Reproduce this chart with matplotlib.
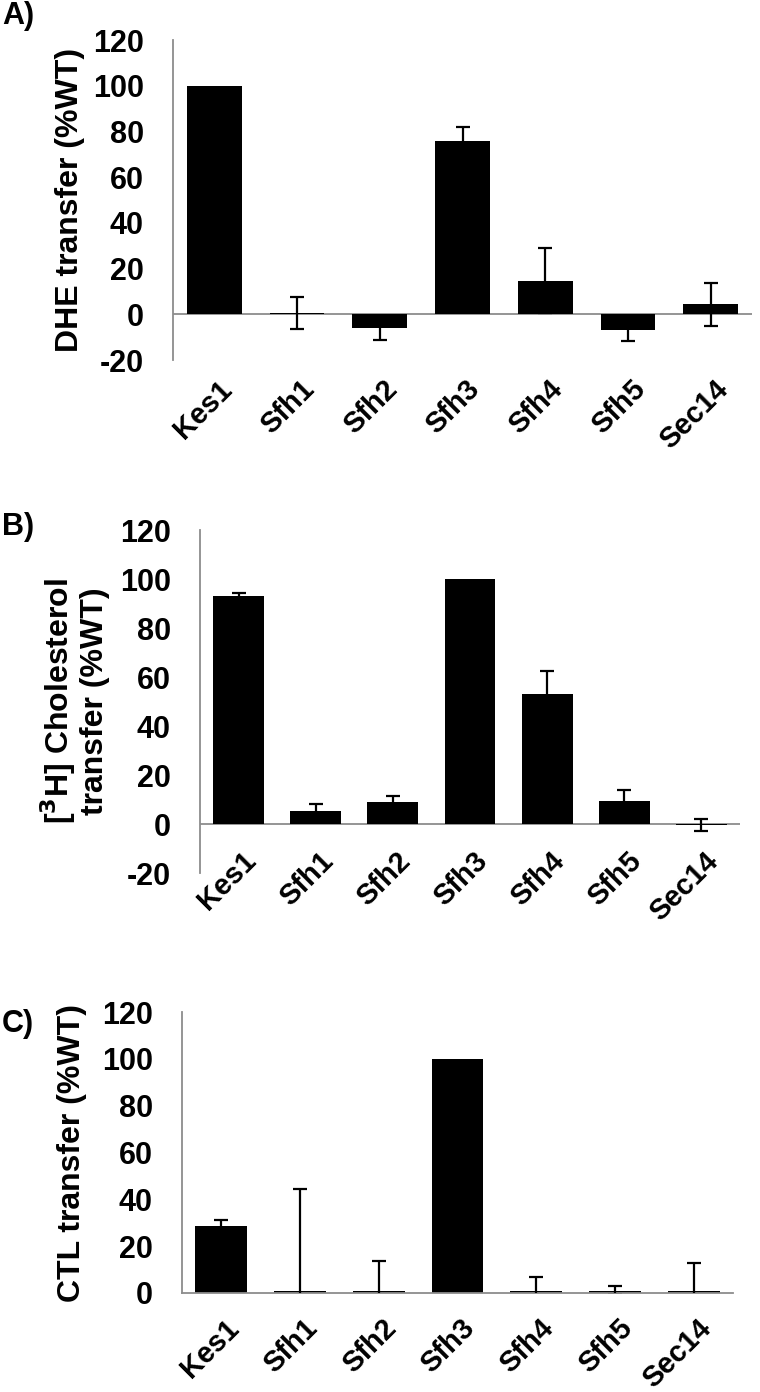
import matplotlib
matplotlib.use("Agg")
import matplotlib.pyplot as plt
import matplotlib.transforms as mtransforms

# data
proteins = ["Kes1", "Sfh1", "Sfh2", "Sfh3", "Sfh4", "Sfh5", "Sec14"]

dhe_mean = [100, 0.7, -6, 76, 14.7, -6.8, 4.4]
dhe_err = [0, 7, 5.4, 6, 14.3, 4.9, 9.5]

chol_mean = [93, 5.5, 8.9, 100, 53.2, 9.2, -0.3]
chol_err = [1.1, 2.7, 2.5, 0, 9.4, 4.8, 2.4]

ctl_mean = [28.7, 1, 1, 100, 1, 1, 1]
ctl_err = [2.3, 43.3, 12.6, 0, 5.8, 2, 11.9]

yticks_neg = [-20, 0, 20, 40, 60, 80, 100, 120]
yticks_pos = [0, 20, 40, 60, 80, 100, 120]

plt.rcParams["font.family"] = ["Liberation Sans", "DejaVu Sans"]

GRAY = "#8c8c8c"
W, H = 760, 1392
fig = plt.figure(figsize=(W / 100, H / 100), dpi=100)


def px_axes(x0, x1, ytop, ybot):
    return fig.add_axes([x0 / W, 1 - ybot / H, (x1 - x0) / W, (ybot - ytop) / H])


def panel(ax, means, errs, ylim, yticks, ylabel, xpad, zero_line):
    x = list(range(len(proteins)))
    ax.bar(x, means, width=0.66, color="black", zorder=2)
    # only bars that have an error value get whiskers
    ex = [i for i in x if errs[i] > 0]
    ax.errorbar(ex, [means[i] for i in ex], yerr=[errs[i] for i in ex], fmt="none",
                ecolor="black", elinewidth=1.6, capsize=5, capthick=1.6, zorder=3)
    ax.set_xlim(-0.5, len(proteins) - 0.5)
    ax.set_ylim(*ylim)
    ax.set_yticks(yticks)
    ax.set_yticklabels([str(t) for t in yticks], fontsize=22, fontweight="bold")
    ax.tick_params(axis="y", length=0, pad=21)
    ax.tick_params(axis="x", length=0, pad=xpad)
    ax.set_xticks(x)
    ax.set_xticklabels(proteins, fontsize=21, fontweight="bold", rotation=45,
                       ha="right", va="top", rotation_mode="anchor")
    offset = mtransforms.ScaledTranslation(3 / 100, 0, fig.dpi_scale_trans)
    for lab in ax.get_xticklabels():
        lab.set_transform(lab.get_transform() + offset)
    for s in ["top", "right"]:
        ax.spines[s].set_visible(False)
    ax.spines["left"].set_color(GRAY)
    ax.spines["left"].set_linewidth(1.3)
    if zero_line:
        ax.spines["bottom"].set_visible(False)
        ax.axhline(0, color=GRAY, lw=1.3, zorder=1)
    else:
        ax.spines["bottom"].set_color(GRAY)
        ax.spines["bottom"].set_linewidth(1.3)
    ax.set_ylabel(ylabel, fontsize=23, fontweight="bold", linespacing=1.1)


axA = px_axes(173, 752, 40, 360)
panel(axA, dhe_mean, dhe_err, (-20, 120), yticks_neg, "DHE transfer (%WT)",
      xpad=11, zero_line=True)
axA.yaxis.set_label_coords(-88 / 579, 0.5)

axB = px_axes(200, 740, 530, 873)
panel(axB, chol_mean, chol_err, (-20, 120), yticks_neg,
      "[$\\mathbf{^{3}}$H] Cholesterol\ntransfer (%WT)",
      xpad=-19, zero_line=True)
axB.yaxis.set_label_coords(-90 / 540, 0.5)

axC = px_axes(182, 733, 1012, 1293)
panel(axC, ctl_mean, ctl_err, (0, 120), yticks_pos, "CTL transfer (%WT)",
      xpad=15, zero_line=False)
axC.yaxis.set_label_coords(-95 / 551, 0.5)

for lab, ypx in [("A)", 16), ("B)", 527), ("C)", 1024)]:
    fig.text(2 / W, 1 - ypx / H, lab, fontsize=22, fontweight="bold",
             ha="left", va="center")

fig.savefig("out.png", dpi=100)
